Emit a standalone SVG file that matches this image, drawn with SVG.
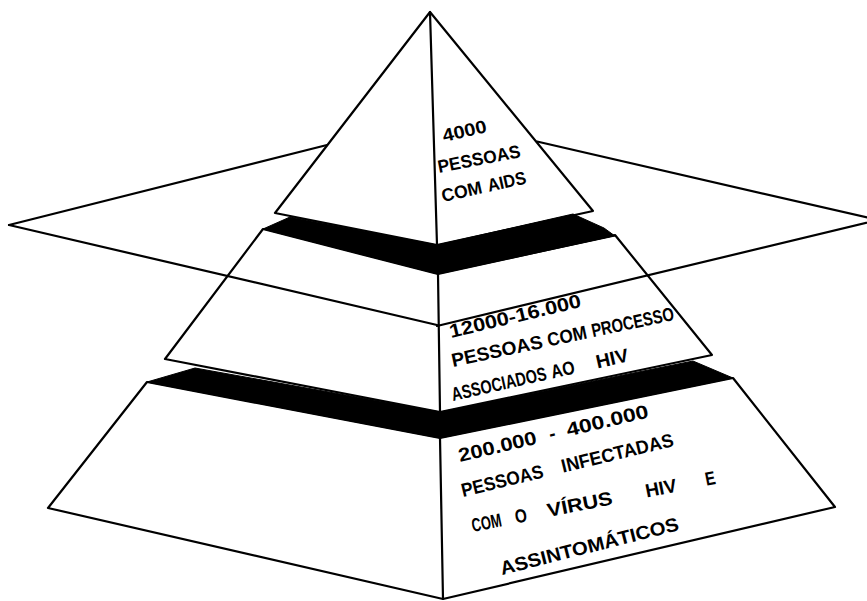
<svg xmlns="http://www.w3.org/2000/svg" width="867" height="601" viewBox="0 0 867 601">
<style>
.ln{fill:none;stroke:#000;stroke-width:2.2;stroke-linejoin:round;stroke-linecap:round}
.face{fill:#fff;stroke:#000;stroke-width:2.2;stroke-linejoin:round}
.band{fill:#000;stroke:#000;stroke-width:1;stroke-linejoin:round}
.t{font-family:"Liberation Sans","DejaVu Sans",sans-serif;font-weight:bold;font-size:19px;fill:#000}
.s18{font-size:18px}
</style>
<rect width="867" height="601" fill="#fff"/>
<g id="plane-back">
<line class="ln" x1="9" y1="225" x2="327" y2="145"/>
<line class="ln" x1="537" y1="141.5" x2="878" y2="220"/>
</g>
<g id="tier3">
<polygon class="face" points="147,382 48,508 443,599 835,507 733,378 440,438"/>
<line class="ln" x1="440" y1="438" x2="443" y2="599"/>
</g>
<g id="tier2">
<polygon class="face" points="263,229 165,359 440,412 712,355 615,235 438,274"/>
<line class="ln" x1="438" y1="274" x2="440" y2="412"/>
</g>
<g id="tier1">
<polygon class="face" points="430,12 275,213 437,245 593,211"/>
<line class="ln" x1="430" y1="12" x2="437" y2="245"/>
</g>
<g id="bands">
<polygon class="band" points="290,217 437,245 573,214 604,228 615,236 438,274 263,229"/>
<polygon class="band" points="195,368 440,412 693,361 733,378 440,438 147,382"/>
</g>
<g id="plane-front">
<line class="ln" x1="9" y1="225" x2="437" y2="325"/>
<line class="ln" x1="437" y1="326" x2="878" y2="220"/>
</g>
<g id="label-top">
<text class="t s18" transform="translate(444,142) rotate(-13) scale(1.12,1)">4000</text>
<text class="t s18" transform="translate(439,173) rotate(-11) scale(0.965,1)">PESSOAS</text>
<text class="t s18" transform="translate(443,202) rotate(-12.5) scale(0.98,1)">COM</text>
<text class="t s18" transform="translate(443,202) rotate(-12.5) translate(47,0) scale(0.91,1)">AIDS</text>
</g>
<g id="label-middle">
<text class="t" transform="translate(451,338) rotate(-13.4) scale(1.15,1)">12000-16.000</text>
<text class="t" transform="translate(453,367) rotate(-12) scale(1.01,1)">PESSOAS</text>
<text class="t" transform="translate(453,367) rotate(-12) translate(98,0) scale(0.9,1)">COM</text>
<text class="t" transform="translate(453,367) rotate(-12) translate(143,0) scale(0.78,1)">PROCESSO</text>
<text class="t" transform="translate(453,401) rotate(-12.7) scale(0.76,1)">ASSOCIADOS</text>
<text class="t" transform="translate(453,401) rotate(-12.7) translate(102,0) scale(0.84,1)">AO</text>
<text class="t" transform="translate(453,401) rotate(-12.7) translate(148,0) scale(1.04,1)">HIV</text>
</g>
<g id="label-bottom">
<text class="t" transform="translate(460,462) rotate(-13.3) scale(1.165,1)">200.000</text>
<text class="t" transform="translate(460,462) rotate(-13.3) translate(93,0)">-</text>
<text class="t" transform="translate(460,462) rotate(-13.3) translate(111,0) scale(1.22,1)">400.000</text>
<text class="t" transform="translate(463,497) rotate(-13.6) scale(0.914,1)">PESSOAS</text>
<text class="t" transform="translate(463,497) rotate(-13.6) translate(103,0) scale(0.948,1)">INFECTADAS</text>
<text class="t" transform="translate(473,532) rotate(-11.2) scale(0.68,1)">COM</text>
<text class="t" transform="translate(473,532) rotate(-11.2) translate(44,0) scale(0.81,1)">O</text>
<text class="t" transform="translate(473,532) rotate(-11.2) translate(77,0) scale(1.14,1)">VÍRUS</text>
<text class="t" transform="translate(473,532) rotate(-11.2) translate(177,0)">HIV</text>
<text class="t" transform="translate(473,532) rotate(-11.2) translate(238,0) scale(0.8,1)">E</text>
<text class="t" transform="translate(502,575) rotate(-14.2) scale(1.07,1)">ASSINTOMÁTICOS</text>
</g>
</svg>
